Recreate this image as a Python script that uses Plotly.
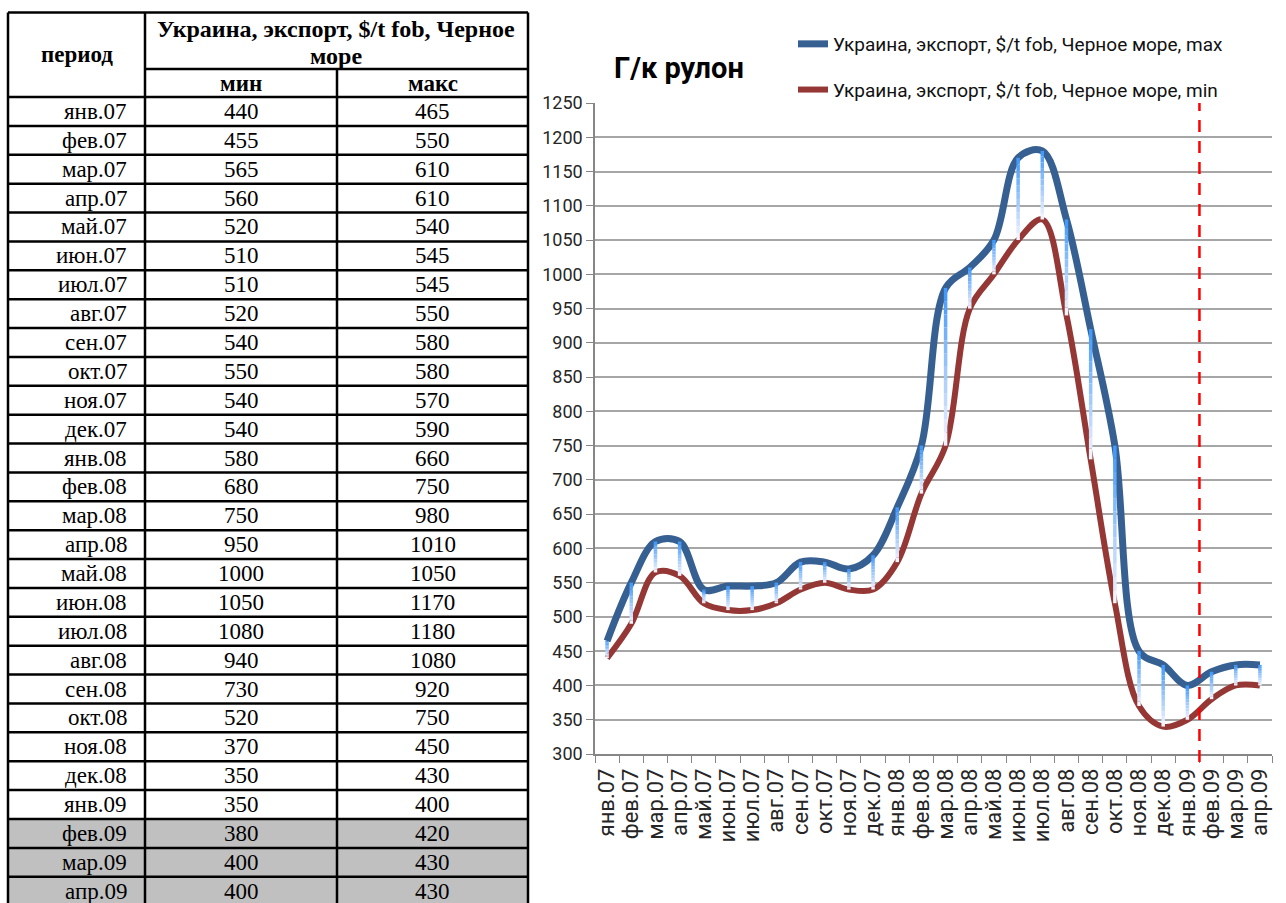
import plotly.graph_objects as go

periods = [
    "янв.07", "фев.07", "мар.07", "апр.07", "май.07", "июн.07", "июл.07", "авг.07",
    "сен.07", "окт.07", "ноя.07", "дек.07", "янв.08", "фев.08", "мар.08", "апр.08",
    "май.08", "июн.08", "июл.08", "авг.08", "сен.08", "окт.08", "ноя.08", "дек.08",
    "янв.09", "фев.09", "мар.09", "апр.09",
]
# values printed in the table
price_min = [440, 455, 565, 560, 520, 510, 510, 520, 540, 550, 540, 540, 580, 680,
             750, 950, 1000, 1050, 1080, 940, 730, 520, 370, 350, 350, 380, 400, 400]
price_max = [465, 550, 610, 610, 540, 545, 545, 550, 580, 580, 570, 590, 660, 750,
             980, 1010, 1050, 1170, 1180, 1080, 920, 750, 450, 430, 400, 420, 430, 430]
# the chart's min series differs from the table in two months
chart_min = [440, 490, 565, 560, 520, 510, 510, 520, 540, 550, 540, 540, 580, 680,
             750, 950, 1000, 1050, 1080, 940, 730, 520, 370, 340, 350, 380, 400, 400]
chart_max = price_max
forecast_rows = ["фев.09", "мар.09", "апр.09"]

W, H = 1286, 903
SERIES_NAME = "Украина, экспорт, $/t fob, Черное море"


def px(x):
    return x / W


def py(y):
    return 1 - y / H


fig = go.Figure()

# smoothed max / min lines
fig.add_trace(go.Scatter(
    x=periods, y=chart_max, mode="lines", name=SERIES_NAME + ", max",
    line=dict(color="#376092", width=7, shape="spline", smoothing=1),
    legendgroup="max",
))
fig.add_trace(go.Scatter(
    x=periods, y=chart_min, mode="lines", name=SERIES_NAME + ", min",
    line=dict(color="#953735", width=6, shape="spline", smoothing=1),
    legendgroup="min",
))

# high-low lines with a blue -> white gradient, built from several segments
steps = 12
top_rgb, bot_rgb = (60, 150, 250), (248, 246, 252)
for k in range(steps):
    t = (k + 0.5) / steps
    col = "rgb(%d,%d,%d)" % tuple(round(a + (b - a) * t) for a, b in zip(top_rgb, bot_rgb))
    xs, ys = [], []
    for p, lo, hi in zip(periods, chart_min, chart_max):
        y0 = hi - (hi - lo) * k / steps
        y1 = hi - (hi - lo) * (k + 1) / steps
        xs += [p, p, None]
        ys += [y0, y1, None]
    fig.add_trace(go.Scatter(x=xs, y=ys, mode="lines", showlegend=False,
                             hoverinfo="skip", line=dict(color=col, width=3.5)))

# forecast divider
fig.add_shape(type="line", xref="x", yref="paper", x0=24.5, x1=24.5,
              y0=py(762), y1=py(103), line=dict(color="#ff0000", width=2.5, dash="12px,9px"))

fig.add_annotation(text="<b>Г/к рулон</b>", xref="paper", yref="paper",
                   x=px(612), y=py(68), xanchor="left", yanchor="middle", showarrow=False,
                   font=dict(family="Roboto", size=29, color="#000"))

# ---- table on the left ----
table_font = "Liberation Serif, Times New Roman, serif"
x_l, x_p, x_m, x_r = 8, 145, 337, 528
y_top, y_head, y_sub = 12.5, 69, 97
row_h = 28.88
y_bot = y_sub + row_h * len(periods)


def hline(y, xa, xb):
    fig.add_shape(type="line", xref="paper", yref="paper", x0=px(xa), x1=px(xb),
                  y0=py(y), y1=py(y), line=dict(color="#000", width=2.5))


def vline(x, ya, yb):
    fig.add_shape(type="line", xref="paper", yref="paper", x0=px(x), x1=px(x),
                  y0=py(ya), y1=py(yb), line=dict(color="#000", width=2.5))


def cell_text(text, x, y, anchor="center", bold=False, size=23):
    fig.add_annotation(text="<b>%s</b>" % text if bold else text, xref="paper", yref="paper",
                       x=px(x), y=py(y), xanchor=anchor, yanchor="middle", showarrow=False,
                       font=dict(family=table_font, size=size, color="#000"))


for i, p in enumerate(periods):
    top = y_sub + i * row_h
    if p in forecast_rows:
        fig.add_shape(type="rect", xref="paper", yref="paper", x0=px(x_l), x1=px(x_r),
                      y0=py(top), y1=py(top + row_h), fillcolor="#c0c0c0", line_width=0,
                      layer="below")
    cy = top + row_h / 2
    cell_text(p, 129, cy, anchor="right")
    cell_text(str(price_min[i]), (x_p + x_m) / 2, cy)
    cell_text(str(price_max[i]), (x_m + x_r) / 2, cy)
    hline(top + row_h, x_l, x_r)

hline(y_top, x_l, x_r)
hline(y_sub, x_l, x_r)
hline(y_head, x_p, x_r)
vline(x_l, y_top, y_bot)
vline(x_p, y_top, y_bot)
vline(x_r, y_top, y_bot)
vline(x_m, y_head, y_bot)

cell_text("период", (x_l + x_p) / 2, (y_top + y_sub) / 2, bold=True)
cell_text("Украина, экспорт, $/t fob, Черное", (x_p + x_r) / 2, 29, bold=True, size=24)
cell_text("море", (x_p + x_r) / 2, 56, bold=True, size=24)
cell_text("мин", (x_p + x_m) / 2, 84, bold=True)
cell_text("макс", (x_m + x_r) / 2, 84, bold=True)

fig.update_layout(
    width=W, height=H, margin=dict(l=0, r=0, t=0, b=0, autoexpand=False),
    paper_bgcolor="white", plot_bgcolor="white",
    font=dict(family="Roboto", color="#262626"),
    showlegend=True,
    legend=dict(x=px(793), y=py(25), xanchor="left", yanchor="top",
                font=dict(size=19, color="#111"), tracegroupgap=18,
                bgcolor="rgba(0,0,0,0)"),
    xaxis=dict(domain=[px(595), px(1272)], range=[-0.5, len(periods) - 0.5],
               tickmode="array", tickvals=periods, ticktext=periods,
               tickangle=-90, tickson="boundaries", ticks="outside", ticklen=7,
               ticklabelstandoff=4,
               tickcolor="#868686", showline=True, linecolor="#868686", linewidth=1.5,
               showgrid=False, automargin=False, tickfont=dict(size=22, color="#262626")),
    yaxis=dict(domain=[py(754), py(103)], range=[300, 1250], dtick=50,
               ticks="outside", ticklen=7, tickcolor="#868686", showline=True,
               linecolor="#868686", linewidth=1.5, gridcolor="#a6a6a6", gridwidth=1.5,
               zeroline=False, automargin=False, tickfont=dict(size=18, color="#262626")),
)

fig.write_html("out.html", post_script="document.body.style.margin='0';",
               config={"displayModeBar": False})
